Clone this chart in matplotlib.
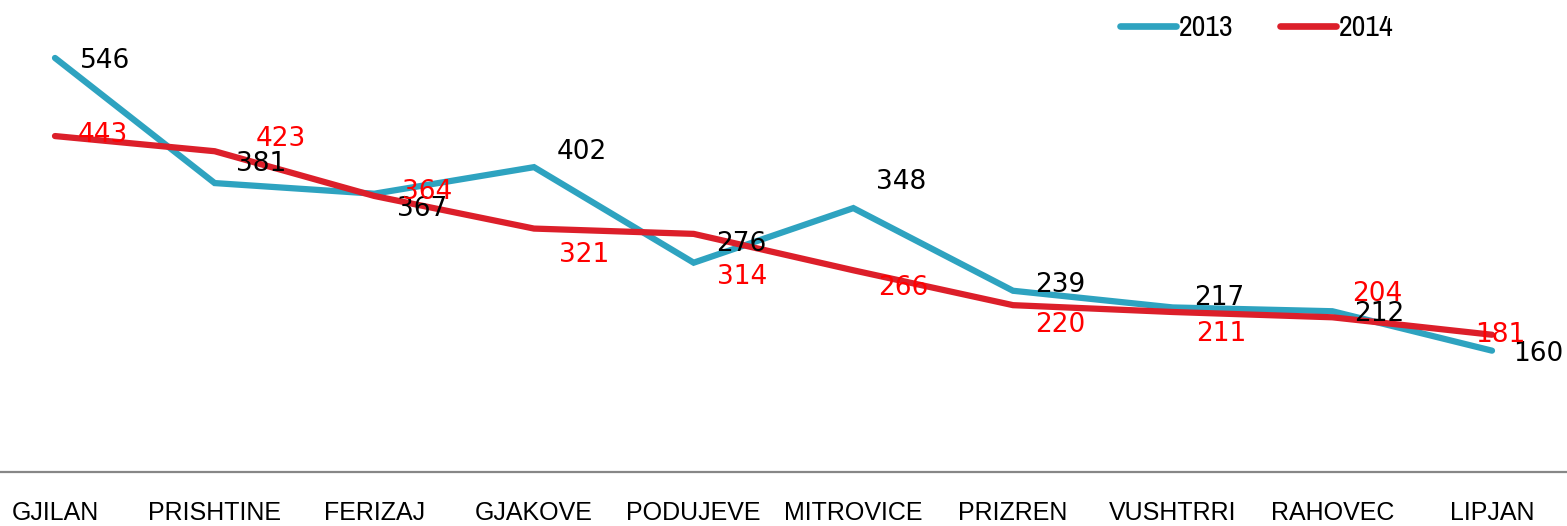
import matplotlib
matplotlib.use("Agg")
import matplotlib.pyplot as plt
from matplotlib import font_manager as fm

categories = ["GJILAN", "PRISHTINE", "FERIZAJ", "GJAKOVE", "PODUJEVE",
              "MITROVICE", "PRIZREN", "VUSHTRRI", "RAHOVEC", "LIPJAN"]
values_2013 = [546, 381, 367, 402, 276, 348, 239, 217, 212, 160]
values_2014 = [443, 423, 364, 321, 314, 266, 220, 211, 204, 181]

# label offsets in pixels (dx right, dy up)
off_2013 = [(50, 0), (46, 22), (48, -12), (48, 18), (48, 22), (48, 29),
            (47, 9), (47, 12), (47, 0), (46, 0)]
off_2014 = [(48, 4), (66, 15), (53, 7), (50, -23), (48, -40), (50, -15),
            (47, -17), (49, -19), (45, 26), (8, 3)]

col13 = "#2ea3c0"
col14 = "#dc1f2a"
cat_font = "Liberation Sans"

# look for a condensed sans font for the legend
cands = []
for f in fm.fontManager.ttflist:
    nm = f.name
    if f.style != "normal" or f.weight not in (400, "normal", "regular"):
        continue
    if "Narrow" in nm or "Condensed" in nm or f.stretch in ("condensed", "semi-condensed"):
        if "Mono" in nm or "Serif" in nm:
            continue
        pri = 0 if "Liberation" in nm else 1
        cands.append((pri, nm, f.fname))
cands.sort()
if cands:
    leg_prop = fm.FontProperties(fname=cands[0][2], size=21.5)
else:
    leg_prop = fm.FontProperties(family=cat_font, size=19)
leg_size = leg_prop.get_size_in_points()

fig = plt.figure(figsize=(15.67, 5.26), dpi=100)
ax = fig.add_axes([0, (526 - 472) / 526, 1, 455 / 526])
x = list(range(len(categories)))
ax.plot(x, values_2013, color=col13, lw=4.5, label="2013", solid_capstyle="round", solid_joinstyle="miter")
ax.plot(x, values_2014, color=col14, lw=4.5, label="2014", solid_capstyle="round", solid_joinstyle="miter")
ax.set_xlim(-55 / 159.7, 9 + 75 / 159.7)
ax.set_ylim(0, 600)

pt = 72 / 100
for xi, v, (dx, dy) in zip(x, values_2013, off_2013):
    ax.annotate(str(v), (xi, v), xytext=(dx * pt, (dy - 3) * pt), textcoords="offset points",
                ha="center", va="center", fontsize=19, color="black", family="DejaVu Sans")
for xi, v, (dx, dy) in zip(x, values_2014, off_2014):
    ax.annotate(str(v), (xi, v), xytext=(dx * pt, (dy - 3) * pt), textcoords="offset points",
                ha="center", va="center", fontsize=19, color="#ff0000", family="DejaVu Sans")

for s in ["top", "left", "right"]:
    ax.spines[s].set_visible(False)
ax.spines["bottom"].set_color("#878787")
ax.spines["bottom"].set_linewidth(1.6)
ax.set_yticks([])
ax.set_xticks(x)
ax.set_xticklabels(categories, fontsize=18, family=cat_font)
ax.tick_params(axis="x", length=0, pad=21)

leg = ax.legend(loc="center left", bbox_to_anchor=(1120 / 1567, (472 - 28) / 455),
                ncol=2, frameon=False, prop=leg_prop,
                handlelength=56 / (leg_size * 100 / 72),
                columnspacing=46 / (leg_size * 100 / 72), handletextpad=0.1,
                borderaxespad=0, borderpad=0)
for h in leg.get_lines():
    h.set_linewidth(4.8)
    h.set_solid_capstyle("round")

fig.savefig("out.png", dpi=100)
